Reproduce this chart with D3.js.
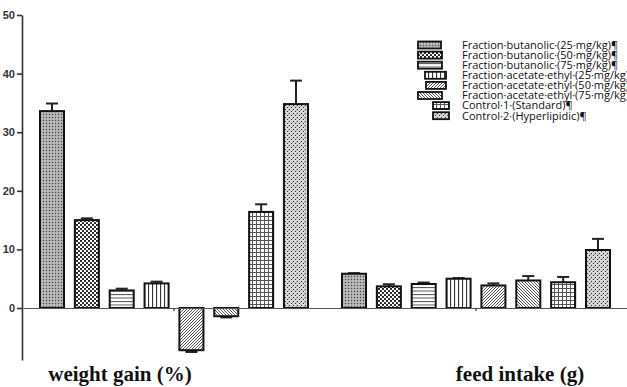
<!DOCTYPE html>
<html>
<head>
<meta charset="utf-8">
<script src="https://cdn.jsdelivr.net/npm/d3@7"></script>
<style>
  html, body { margin: 0; padding: 0; background: #fff; }
  svg { display: block; }
</style>
</head>
<body>
<svg id="chart" width="627" height="387"></svg>
<script>
// ---- data ----
const groups = ["weight gain (%)", "feed intake (g)"];
const series = [
  "Fraction·butanolic·(25·mg/kg)¶",
  "Fraction·butanolic·(50·mg/kg)¶",
  "Fraction·butanolic·(75·mg/kg)¶",
  "Fraction·acetate·ethyl·(25·mg/kg)¶",
  "Fraction·acetate·ethyl·(50·mg/kg)¶",
  "Fraction·acetate·ethyl·(75·mg/kg)¶",
  "Control·1·(Standard)¶",
  "Control·2·(Hyperlipidic)¶"
];
const weightGain = [33.6, 15.0, 3.0, 4.2, -7.2, -1.4, 16.4, 34.8];
const weightGainErr = [1.3, 0.3, 0.3, 0.3, 0.3, 0.2, 1.3, 4.0];
const feedIntake = [5.85, 3.7, 4.1, 5.0, 3.85, 4.7, 4.4, 9.9];
const feedIntakeErr = [0.1, 0.35, 0.25, 0.1, 0.35, 0.75, 0.9, 1.9];
const yTicks = [0, 10, 20, 30, 40, 50];

const values = [weightGain, feedIntake];
const errors = [weightGainErr, feedIntakeErr];

// ---- setup ----
const svg = d3.select("#chart");
const defs = svg.append("defs");

function pat(id, w, h, build) {
  const p = defs.append("pattern").attr("id", id).attr("patternUnits", "userSpaceOnUse")
    .attr("width", w).attr("height", h);
  build(p);
}
pat("p0", 3, 3, p => {
  p.append("rect").attr("width", 3).attr("height", 3).attr("fill", "#a9a9a9");
  p.append("rect").attr("x", 0).attr("y", 0).attr("width", 1).attr("height", 1).attr("fill", "#444");
  p.append("rect").attr("x", 1.5).attr("y", 1.5).attr("width", 1).attr("height", 1).attr("fill", "#eee");
});
pat("p1", 4, 4, p => {
  p.append("rect").attr("width", 4).attr("height", 4).attr("fill", "#fff");
  p.append("circle").attr("cx", 1).attr("cy", 1).attr("r", 1.1).attr("fill", "#111");
  p.append("circle").attr("cx", 3).attr("cy", 3).attr("r", 1.1).attr("fill", "#111");
});
pat("p2", 4, 3.5, p => {
  p.append("rect").attr("width", 4).attr("height", 3.5).attr("fill", "#fff");
  p.append("rect").attr("y", 0).attr("width", 4).attr("height", 1).attr("fill", "#555");
});
pat("p3", 4, 4, p => {
  p.append("rect").attr("width", 4).attr("height", 4).attr("fill", "#fff");
  p.append("rect").attr("x", 0).attr("width", 1.1).attr("height", 4).attr("fill", "#333");
});
pat("p4", 3, 3, p => {
  p.append("rect").attr("width", 3).attr("height", 3).attr("fill", "#fff");
  p.append("path").attr("d", "M-1,1 L1,-1 M0,3 L3,0 M2,4 L4,2").attr("stroke", "#555").attr("stroke-width", 1);
});
pat("p5", 3, 3, p => {
  p.append("rect").attr("width", 3).attr("height", 3).attr("fill", "#fff");
  p.append("path").attr("d", "M-1,2 L1,4 M0,0 L3,3 M2,-1 L4,1").attr("stroke", "#555").attr("stroke-width", 1);
});
pat("p6", 4, 4, p => {
  p.append("rect").attr("width", 4).attr("height", 4).attr("fill", "#fff");
  p.append("rect").attr("width", 4).attr("height", 1).attr("fill", "#555");
  p.append("rect").attr("width", 1).attr("height", 4).attr("fill", "#555");
});
pat("p7", 4, 4, p => {
  p.append("rect").attr("width", 4).attr("height", 4).attr("fill", "#cfcfcf");
  p.append("path").attr("d", "M0.5,2.5 L2,1 M2.5,4.5 L4,3").attr("stroke", "#333").attr("stroke-width", 1);
  p.append("rect").attr("x", 2.5).attr("y", 0.5).attr("width", 1).attr("height", 1).attr("fill", "#fff");
  p.append("rect").attr("x", 0.5).attr("y", 2.5).attr("width", 1).attr("height", 1).attr("fill", "#fff");
});

// ---- scales ----
const x0 = d3.scaleBand().domain(groups).range([23, 627]).paddingInner(0.1126).paddingOuter(0.0563);
const x1 = d3.scaleBand().domain(series).range([0, x0.bandwidth()]).paddingInner(0.311).paddingOuter(0);
const y = d3.scaleLinear().domain([-8.87, 50]).range([360, 15]);

// ---- bars ----
groups.forEach((g, gi) => {
  const gSel = svg.append("g").attr("transform", `translate(${x0(g)},0)`);
  series.forEach((s, si) => {
    const v = values[gi][si], e = errors[gi][si];
    const bx = x1(s), bw = x1.bandwidth();
    const cx = bx + bw / 2;
    const end = v + Math.sign(v) * e;
    gSel.append("line").attr("x1", cx).attr("x2", cx).attr("y1", y(v)).attr("y2", y(end))
      .attr("stroke", "#222").attr("stroke-width", 2);
    gSel.append("line").attr("x1", cx - 6).attr("x2", cx + 6).attr("y1", y(end)).attr("y2", y(end))
      .attr("stroke", "#222").attr("stroke-width", 2);
    gSel.append("rect").attr("x", bx).attr("width", bw)
      .attr("y", y(Math.max(0, v))).attr("height", Math.abs(y(v) - y(0)))
      .attr("fill", `url(#p${si})`).attr("stroke", "#111").attr("stroke-width", 2);
  });
});

// ---- axes ----
const xAxis = svg.append("g").attr("transform", `translate(0,${y(0)})`)
  .call(d3.axisBottom(x0).tickSize(3).tickSizeOuter(0).tickFormat(""));
xAxis.select(".domain").attr("stroke", "#555").attr("stroke-width", 1.2);
xAxis.selectAll(".tick line").attr("stroke", "#333").attr("stroke-width", 1.2);

const yAxis = svg.append("g").attr("transform", "translate(22,0)")
  .call(d3.axisLeft(y).tickValues(yTicks).tickSize(5).tickSizeOuter(0).tickPadding(2));
yAxis.select(".domain").attr("stroke", "#333").attr("stroke-width", 1.6);
yAxis.selectAll(".tick line").attr("stroke", "#333").attr("stroke-width", 1.6);
yAxis.selectAll(".tick text").attr("font-family", "'Liberation Sans', Arial, sans-serif")
  .attr("font-weight", "bold").attr("font-size", 11).attr("fill", "#333");

// ---- group labels ----
const labelX = [120, 520];
groups.forEach((g, gi) => {
  svg.append("text").attr("x", labelX[gi]).attr("y", 381).attr("text-anchor", "middle")
    .attr("font-family", "'Liberation Serif', 'Times New Roman', serif").attr("font-weight", "bold")
    .attr("font-size", 21).attr("fill", "#111").text(g);
});

// ---- legend ----
const swX = [418, 418, 418, 425, 426, 418, 433, 433];
const swW = [23, 24, 24, 21, 20, 24, 16, 16];
const leg = svg.append("g");
series.forEach((s, i) => {
  const cy = 45 + i * 10.1;
  leg.append("rect").attr("x", swX[i]).attr("y", cy - 3.5).attr("width", swW[i]).attr("height", 7)
    .attr("fill", `url(#p${i})`).attr("stroke", "#111").attr("stroke-width", 1.8);
  leg.append("text").attr("x", 462).attr("y", cy).attr("dy", "0.35em")
    .style("font-family", "'Open Sans', sans-serif").style("font-size", "11px")
    .attr("fill", "#111").text(s);
});
</script>
</body>
</html>
